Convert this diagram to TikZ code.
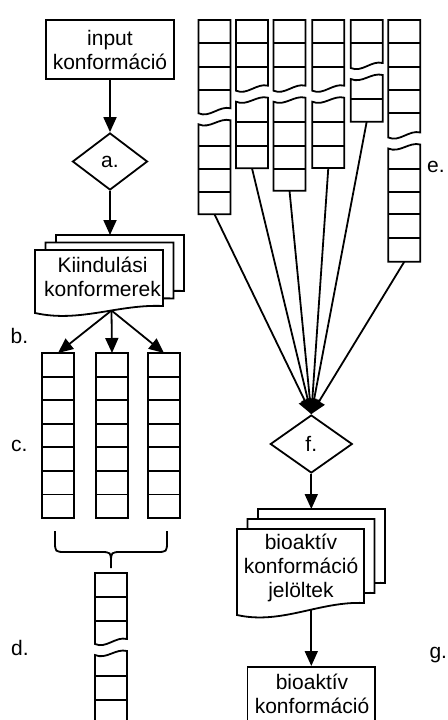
\documentclass[tikz,border=0pt]{standalone}
\usepackage{fontspec}
\setmainfont{Liberation Sans}
\usetikzlibrary{arrows.meta,shapes.geometric}
\newcommand\txtfont{\fontsize{21}{24}\selectfont}
\newcommand\cw{32}
% upper piece of a broken column: xL, top, W (wave level), inner lines
\newcommand\colupper[4]{%
  \draw[colline] (#1,#2) -- (#1+\cw,#2) -- (#1+\cw,#3-4) .. controls (#1+0.65*\cw,#3-7) and (#1+0.35*\cw,#3+6) .. (#1,#3+1) -- cycle;
  \foreach \yy in {#4} {\draw[colline] (#1,\yy) -- (#1+\cw,\yy);}}
% lower piece of a broken column: xL, W (wave level), bottom, inner lines
\newcommand\collower[4]{%
  \draw[colline] (#1,#2+12) .. controls (#1+0.35*\cw,#2+17) and (#1+0.65*\cw,#2+5) .. (#1+\cw,#2+8) -- (#1+\cw,#3) -- (#1,#3) -- cycle;
  \foreach \yy in {#4} {\draw[colline] (#1,\yy) -- (#1+\cw,\yy);}}
% full column: xL, top, bottom, inner lines
\newcommand\colfull[4]{%
  \draw[colline] (#1,#2) rectangle (#1+\cw,#3);
  \foreach \yy in {#4} {\draw[colline] (#1,\yy) -- (#1+\cw,\yy);}}
% document sheet: xL, T, w, B, d, name of a point on the bottom
\newcommand\docsheet[6]{%
  \draw[sheet] (#1,#2) -- (#1+#3,#2) -- (#1+#3,#4-#5) .. controls (#1+0.65*#3,#4-#5-2) and (#1+0.35*#3,#4+10) .. coordinate[pos=0.4] (#6) (#1,#4) -- cycle;}
\tikzset{
  lw/.style={line width=1.8pt},
  colline/.style={lw, line join=miter},
  sheet/.style={lw, fill=white, line join=miter},
  box/.style={draw, lw, rectangle, inner sep=0pt, align=center, font=\txtfont},
  dia/.style={draw, lw, diamond, inner sep=0pt, font=\txtfont},
  txt/.style={inner sep=0pt, align=center, font=\txtfont},
  lab/.style={anchor=base west, inner sep=0pt, font=\txtfont},
  arr/.style={lw, -{Triangle[width=13pt,length=15pt]}},
}
\begin{document}
\begin{tikzpicture}[x=1pt,y=-1pt]
\path[use as bounding box] (0,0) rectangle (447,720);
\clip (0,0) rectangle (447,720);
\fill[white] (0,0) rectangle (447,720);

% ---------- left branch ----------
\node[box, minimum width=128pt, minimum height=59pt] (input) at (110,49.5) {input\\konformáció};
\node[dia, minimum width=75pt, minimum height=57pt] (a) at (110,161.5) {a.};
\draw[arr] (input.south) -- (a.north);

% document stack 1
\docsheet{56}{235}{128}{298}{7}{d1c}
\docsheet{45.5}{242.5}{128}{305.5}{7}{d1m}
\docsheet{35}{250}{128}{313}{7}{d1b}
\coordinate (d1top) at (110,235);
\node[txt] (kiind) at (102.5,277.2) {Kiindulási\\konformerek};
\draw[arr] (a.south) -- (a.south |- d1top);

% c columns
\colfull{42}{353}{518}{376.6,400.1,423.7,447.3,470.9,494.4}
\colfull{96}{353}{518}{376.6,400.1,423.7,447.3,470.9,494.4}
\colfull{148}{353}{518}{376.6,400.1,423.7,447.3,470.9,494.4}
\coordinate (c1t) at (58,353);
\coordinate (c2t) at (112,353);
\coordinate (c3t) at (164,353);
\draw[arr] (d1b) -- (c1t);
\draw[arr] (d1b) -- (c2t);
\draw[arr] (d1b) -- (c3t);

% brace
\draw[colline] (55,531) -- (55,541) .. controls (55,552) .. (66,552) -- (100,552) .. controls (111,552) .. (111,563) -- (111,568);
\draw[colline] (167,531) -- (167,541) .. controls (167,552) .. (156,552) -- (122,552) .. controls (111,552) .. (111,563);

% d column
\colupper{95}{573}{643}{597,621}
\collower{95}{643}{760}{676,700,723.5}

% labels
\node[lab] (lb) at (10.5,343) {b.};
\node[lab] (lc) at (10.8,451.7) {c.};
\node[lab] (ld) at (11,655) {d.};
\node[lab] (le) at (427,172) {e.};
\node[lab] (lg) at (429.3,658) {g.};

% ---------- right branch ----------
\colupper{198.5}{20}{112.3}{43.3,66.7,90}
\collower{198.5}{112.3}{214.3}{146,169,192}
\colupper{236}{20}{89.7}{43.3,66.7}
\collower{236}{89.7}{168.3}{122,146}
\colupper{273.5}{20}{89.7}{43.3,66.7}
\collower{273.5}{89.7}{190.7}{122,146,169}
\colupper{312.3}{20}{89.7}{43.3,66.7}
\collower{312.3}{89.7}{168}{122,146}
\colupper{350.7}{20}{67}{43.3}
\collower{350.7}{67}{121.7}{99}
\colupper{388.3}{20}{136.5}{43.3,66.7,90,113.3}
\collower{388.3}{136.5}{261.7}{169,192,214.3,238}
\coordinate (e1b) at (214.5,214.3);
\coordinate (e2b) at (252,168.3);
\coordinate (e3b) at (289.5,190.7);
\coordinate (e4b) at (328.3,168);
\coordinate (e5b) at (366.7,121.7);
\coordinate (e6b) at (404.3,261.7);

\node[dia, minimum width=82pt, minimum height=58pt] (f) at (311.3,444) {f.};
\foreach \c in {e1b,e2b,e3b,e4b,e5b,e6b} {\draw[arr] (\c) -- (f.north);}

% document stack 2
\docsheet{258}{509}{127}{595}{12}{d2c}
\docsheet{247.5}{519}{127}{605}{12}{d2m}
\docsheet{237}{529}{127}{615}{12}{d2b}
\coordinate (d2top) at (311.3,509);
\node[txt] (cand) at (301,568.3) {bioaktív\\konformáció\\jelöltek};
\draw[arr] (f.south) -- (f.south |- d2top);

% final box
\node[draw, lw, rectangle, inner sep=0pt, minimum width=127.7pt, minimum height=90pt, anchor=north] (final) at (311.3,666) {};
\node[txt] (finaltxt) at (312,694.2) {bioaktív\\konformáció};
\draw[arr] (d2b -| final.north) -- (final.north);
\end{tikzpicture}
\end{document}
